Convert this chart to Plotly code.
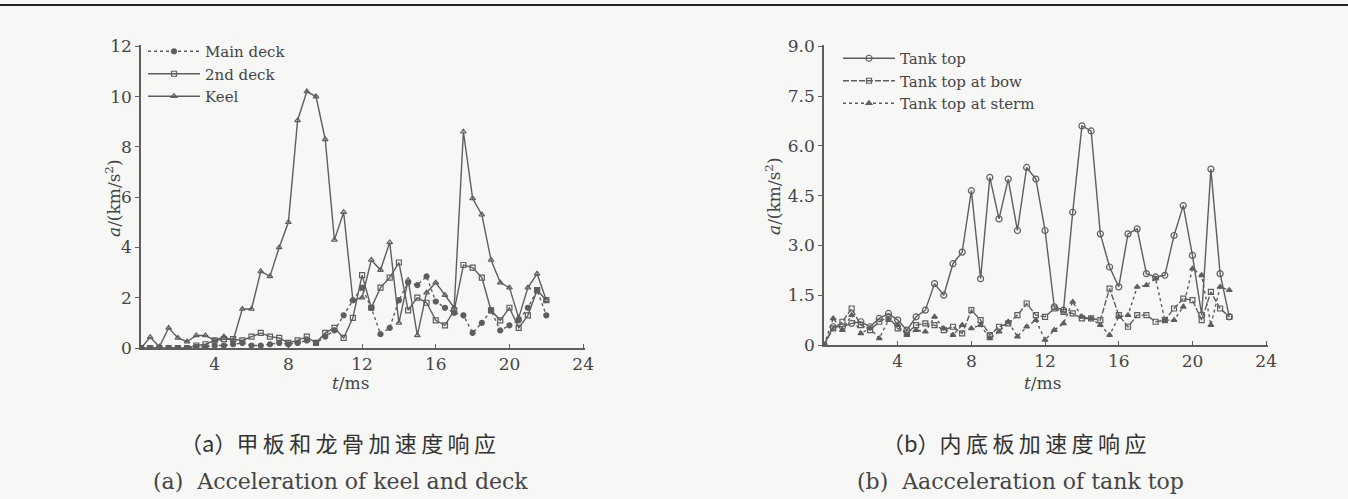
import plotly.graph_objects as go

W, H = 1348, 499

# ---------------- data ----------------
t = [i * 0.5 for i in range(45)]  # 0 .. 22 ms

main_deck = [0, 0, 0, 0, 0, 0, 0.05, 0.05, 0.1, 0.1, 0.15, 0.2, 0.1, 0.1, 0.15, 0.2,
             0.15, 0.2, 0.3, 0.2, 0.45, 0.7, 1.3, 1.9, 2.4, 1.6, 0.55, 0.8, 1.9, 2.6,
             2.5, 2.85, 1.85, 1.6, 1.4, 1.3, 0.6, 1.0, 1.5, 0.7, 0.9, 1.1, 1.6, 2.3, 1.3]
second_deck = [0, 0, 0, 0, 0, 0, 0.1, 0.15, 0.3, 0.35, 0.35, 0.3, 0.45, 0.6, 0.45, 0.4,
               0.2, 0.3, 0.45, 0.2, 0.6, 0.8, 0.4, 1.2, 2.9, 1.6, 2.4, 2.8, 3.4, 1.5,
               2.0, 1.8, 1.1, 0.9, 1.5, 3.3, 3.2, 2.8, 1.5, 1.1, 1.6, 0.8, 1.3, 2.3, 1.9]
keel = [0, 0.43, 0.05, 0.8, 0.4, 0.25, 0.5, 0.5, 0.3, 0.45, 0.3, 1.55, 1.55, 3.05, 2.85, 4.0,
        5.0, 9.05, 10.2, 10.0, 8.3, 4.3, 5.4, 1.9, 2.0, 3.5, 3.1, 4.2, 1.0, 2.7,
        0.5, 2.2, 2.6, 2.1, 1.6, 8.6, 5.95, 5.3, 3.5, 2.6, 2.4, 1.2, 2.4, 2.95, 1.9]

tank_top = [0, 0.55, 0.55, 0.65, 0.7, 0.55, 0.8, 0.95, 0.75, 0.45, 0.85, 1.05, 1.85, 1.5, 2.45, 2.8,
            4.65, 2.0, 5.05, 3.8, 5.0, 3.45, 5.35, 5.0, 3.45, 1.15, 1.05, 4.0, 6.6, 6.45,
            3.35, 2.35, 1.75, 3.35, 3.5, 2.15, 2.05, 2.1, 3.3, 4.2, 2.7, 0.9, 5.3, 2.15, 0.85]
tank_bow = [0, 0.5, 0.7, 1.1, 0.6, 0.45, 0.7, 0.85, 0.5, 0.35, 0.6, 0.65, 0.6, 0.45, 0.55, 0.35,
            1.05, 0.75, 0.3, 0.55, 0.65, 0.9, 1.25, 0.9, 0.85, 1.1, 1.0, 0.95, 0.8, 0.8,
            0.75, 1.7, 0.9, 0.55, 0.9, 0.9, 0.7, 0.75, 1.1, 1.4, 1.35, 0.75, 1.6, 1.1, 0.85]
tank_stern = [0, 0.8, 0.45, 0.9, 0.35, 0.5, 0.2, 0.75, 0.6, 0.3, 0.45, 0.4, 0.85, 0.5, 0.3, 0.6,
              0.5, 0.6, 0.2, 0.4, 0.7, 0.25, 0.55, 0.75, 0.15, 0.45, 0.65, 1.3, 0.85, 0.8,
              0.6, 0.3, 0.85, 0.9, 1.75, 1.8, 2.0, 0.75, 0.75, 1.15, 2.3, 2.1, 0.6, 1.75, 1.65]

x_ticks = [4, 8, 12, 16, 20, 24]
left_yticks = [0, 2, 4, 6, 8, 10, 12]
right_yticks = [0, 1.5, 3.0, 4.5, 6.0, 7.5, 9.0]
right_yticktext = ["0", "1.5", "3.0", "4.5", "6.0", "7.5", "9.0"]

# ---------------- style ----------------
BG = "#f7f7f5"
LC = "#5e5e5e"
TC = "#454545"
SERIF = "DejaVu Serif, serif"
CJK = "Noto Sans CJK SC"
TS = "\u2009"  # thin space for caption letter spacing

def px(x):
    return x / W

def py(y):
    return 1 - y / H

fig = go.Figure()

def add(x, y, name, xa, ya, leg, dash, symbol, msize=5):
    fig.add_trace(go.Scatter(
        x=x, y=y, name=name, mode="lines+markers", xaxis=xa, yaxis=ya, legend=leg,
        line=dict(color=LC, width=1.4, dash=dash),
        marker=dict(symbol=symbol, size=msize, color=LC,
                    line=dict(color=LC, width=1.2)),
    ))

add(t, main_deck, "Main deck", "x", "y", "legend", "dot", "circle", 5)
add(t, second_deck, "2nd deck", "x", "y", "legend", "solid", "square-open", 5)
add(t, keel, "Keel", "x", "y", "legend", "solid", "triangle-up-open", 5)

add(t, tank_top, "Tank top", "x2", "y2", "legend2", "solid", "circle-open", 6)
add(t, tank_bow, "Tank top at bow", "x2", "y2", "legend2", "6px,2px", "square-open", 5)
add(t, tank_stern, "Tank top at sterm", "x2", "y2", "legend2", "dot", "triangle-up", 5)

axis_common = dict(
    showline=True, linecolor=LC, linewidth=1.5, showgrid=False, zeroline=False,
    tickfont=dict(family=SERIF, size=17, color=TC), ticklen=4, tickcolor=LC,
    automargin=False,
)

fig.update_layout(
    template="none",
    width=W, height=H, autosize=False,
    margin=dict(l=0, r=0, t=0, b=0, pad=0),
    paper_bgcolor=BG, plot_bgcolor=BG,
    showlegend=True,
    xaxis=dict(domain=[px(141), px(585)], range=[0, 24.1], tickvals=x_ticks,
               ticks="inside", anchor="y", **axis_common),
    yaxis=dict(domain=[py(348), py(45)], range=[0, 12.05], tickvals=left_yticks,
               ticks="outside", anchor="x", **axis_common),
    xaxis2=dict(domain=[px(824), px(1268)], range=[0, 24.1], tickvals=x_ticks,
                ticks="inside", anchor="y2", **axis_common),
    yaxis2=dict(domain=[py(345), py(45)], range=[0, 9.04], tickvals=right_yticks,
                ticktext=right_yticktext, ticks="outside", anchor="x2", **axis_common),
    legend=dict(x=px(143), y=py(35), xanchor="left", yanchor="top",
                bgcolor="rgba(0,0,0,0)", font=dict(family=SERIF, size=15, color=TC),
                tracegroupgap=0, itemwidth=52),
    legend2=dict(x=px(838), y=py(42), xanchor="left", yanchor="top",
                 bgcolor="rgba(0,0,0,0)", font=dict(family=SERIF, size=15, color=TC),
                 tracegroupgap=0, itemwidth=52),
)

def spaced(s):
    return TS.join(list(s))

annotations = [
    dict(x=px(113), y=py(198), text="<i>a</i>/(km/s<sup>2</sup>)", textangle=-90,
         font=dict(family=SERIF, size=17, color=TC)),
    dict(x=px(773), y=py(196), text="<i>a</i>/(km/s<sup>2</sup>)", textangle=-90,
         font=dict(family=SERIF, size=17, color=TC)),
    dict(x=px(350), y=py(383), text="<i>t</i>/ms", font=dict(family=SERIF, size=17, color=TC)),
    dict(x=px(1042), y=py(383), text="<i>t</i>/ms", font=dict(family=SERIF, size=17, color=TC)),
    dict(x=px(338), y=py(442), text="（a）" + spaced("甲板和龙骨加速度响应"),
         font=dict(family=CJK, size=22, color="#333333")),
    dict(x=px(340), y=py(481), text="(a)  Acceleration of keel and deck",
         font=dict(family=SERIF, size=22, color=TC)),
    dict(x=px(1014), y=py(442), text="（b）" + spaced("内底板加速度响应"),
         font=dict(family=CJK, size=22, color="#333333")),
    dict(x=px(1020), y=py(481), text="(b)  Aacceleration of tank top",
         font=dict(family=SERIF, size=22, color=TC)),
]
for a in annotations:
    a.update(xref="paper", yref="paper", showarrow=False, xanchor="center", yanchor="middle")
fig.update_layout(annotations=annotations)

fig.add_shape(type="line", xref="paper", yref="paper", x0=0, x1=1, y0=py(5), y1=py(5),
              line=dict(color="#222222", width=2))

post = ("document.body.style.margin='0';document.body.style.overflow='hidden';"
        "var gd=document.getElementById('{plot_id}');"
        "Plotly.relayout(gd,{width:1348,height:499});")
fig.write_html("out.html", post_script=post,
               config={"responsive": False, "displayModeBar": False})
